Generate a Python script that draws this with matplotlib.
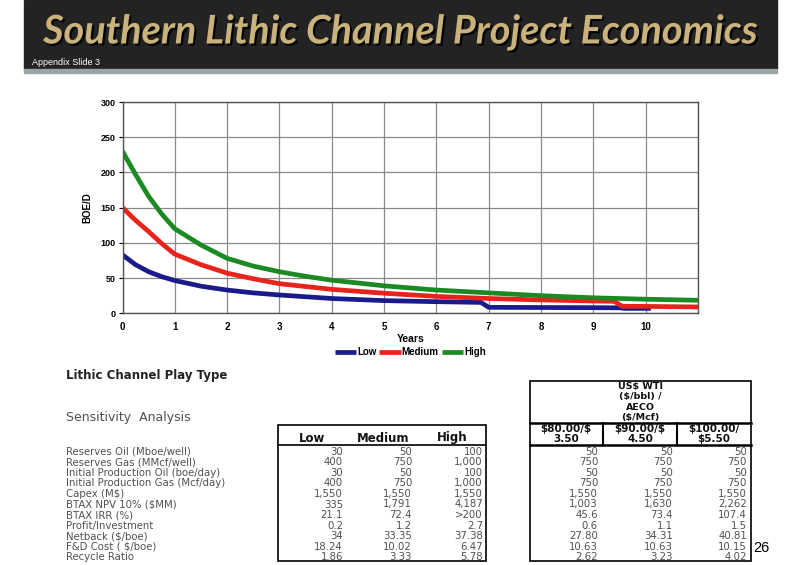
import matplotlib.pyplot as plt
import matplotlib.patheffects as pe
from matplotlib.patches import Rectangle

plt.rcParams['font.family'] = ['Liberation Sans', 'DejaVu Sans']
plt.rcParams['text.parse_math'] = False

# production profiles (BOE/D vs years)
years_low = [0, 0.25, 0.5, 0.75, 1, 1.5, 2, 2.5, 3, 4, 5, 6, 6.85, 7.0, 8, 9, 9.5, 9.6, 10.1]
boe_low = [83, 69, 59, 52, 46.5, 38.5, 33, 29, 26, 21, 18, 16.5, 15.5, 8.5, 8.2, 8, 7.8, 7, 7]
years_med = [0, 0.25, 0.5, 0.75, 1, 1.5, 2, 2.5, 3, 4, 5, 6, 7, 8, 9, 9.4, 9.55, 10, 11]
boe_med = [150, 132, 116, 99, 84, 69, 57, 49, 42, 34, 28.5, 24, 21, 19, 17.5, 17, 10, 9.8, 9]
years_high = [0, 0.25, 0.5, 0.75, 1, 1.5, 2, 2.5, 3, 3.5, 4, 5, 6, 7, 8, 9, 10, 11]
boe_high = [230, 197, 166, 141, 120, 97, 78, 67, 59, 52.5, 47, 39, 33, 29, 25, 22, 20, 18.5]

# sensitivity table
row_labels = ["Reserves Oil (Mboe/well)", "Reserves Gas (MMcf/well)",
              "Initial Production Oil (boe/day)", "Initial Production Gas (Mcf/day)",
              "Capex (M$)", "BTAX NPV 10% ($MM)", "BTAX IRR (%)", "Profit/Investment",
              "Netback ($/boe)", "F&D Cost ( $/boe)", "Recycle Ratio"]
case_names = ["Low", "Medium", "High"]
low_vals = ["30", "400", "30", "400", "1,550", "335", "21.1", "0.2", "34", "18.24", "1.86"]
med_vals = ["50", "750", "50", "750", "1,550", "1,791", "72.4", "1.2", "33.35", "10.02", "3.33"]
high_vals = ["100", "1,000", "100", "1,000", "1,550", "4,187", ">200", "2.7", "37.38", "6.47", "5.78"]

price_title = ["US$ WTI", "($/bbl) /", "AECO", "($/Mcf)"]
price_cases = ["$80.00/$\n3.50", "$90.00/$\n4.50", "$100.00/\n$5.50"]
p80_vals = ["50", "750", "50", "750", "1,550", "1,003", "45.6", "0.6", "27.80", "10.63", "2.62"]
p90_vals = ["50", "750", "50", "750", "1,550", "1,630", "73.4", "1.1", "34.31", "10.63", "3.23"]
p100_vals = ["50", "750", "50", "750", "1,550", "2,262", "107.4", "1.5", "40.81", "10.15", "4.02"]

fig = plt.figure(figsize=(8, 5.65), dpi=100)
fig.patch.set_facecolor('white')

# page overlay in pixel coordinates
bg = fig.add_axes([0, 0, 1, 1], zorder=0)
bg.set_xlim(0, 800)
bg.set_ylim(565, 0)
bg.axis('off')

# header band
bg.add_patch(Rectangle((24, 0), 753, 69, color='#232323'))
bg.add_patch(Rectangle((24, 69), 753, 4, color='#9aa3a6'))
bg.text(401, 32, "Southern Lithic Channel Project Economics", family='Lato',
        fontsize=28.5, fontweight='bold', style='italic', color='#c9b27c',
        ha='center', va='center',
        path_effects=[pe.withSimplePatchShadow(offset=(1.5, -1.5), shadow_rgbFace='black', alpha=0.9)])
bg.text(32, 67, "Appendix Slide 3", fontsize=6.5, color='white', ha='left', va='bottom')

# chart
ax = fig.add_axes([122.5 / 800, 1 - 313.3 / 565, (698 - 122.5) / 800, (313.3 - 102) / 565], zorder=2)
ax.plot(years_low, boe_low, color='#1a1a8a', lw=3.4, label='Low', solid_capstyle='butt')
ax.plot(years_med, boe_med, color='#e8231c', lw=3.4, label='Medium', solid_capstyle='butt')
ax.plot(years_high, boe_high, color='#1b8a22', lw=3.4, label='High', solid_capstyle='butt')
ax.set_xlim(0, 11)
ax.set_ylim(0, 300)
ax.set_xticks(range(0, 12))
ax.set_xticklabels([str(i) for i in range(0, 11)] + [""])
ax.set_yticks(range(0, 301, 50))
ax.grid(True, color='#8a8a8a', lw=0.9)
ax.set_axisbelow(True)
for s in ax.spines.values():
    s.set_color('#555555')
    s.set_linewidth(1)
ax.tick_params(axis='y', length=3, width=0.8, labelsize=6.5, pad=2)
ax.tick_params(axis='x', length=0, labelsize=7, pad=6)
for lab in ax.get_xticklabels() + ax.get_yticklabels():
    lab.set_fontweight('bold')
ax.set_xlabel("Years", fontsize=7.5, fontweight='bold', labelpad=2)
ax.set_ylabel("BOE/D", fontsize=7, fontweight='bold', labelpad=6)
ax.legend(loc='center', bbox_to_anchor=(0.5, -0.183), ncol=3, frameon=False,
          handlelength=2.2, handletextpad=0.1, columnspacing=0.3,
          prop={'weight': 'bold', 'size': 7})

# left table
wide = 'DejaVu Sans'
txt = '#505050'
body = 7.3
bg.text(66, 376, "Lithic Channel Play Type", family=wide, fontsize=8.5, fontweight='bold',
        color='#222222', va='center')
bg.text(66, 418, "Sensitivity  Analysis", family=wide, fontsize=9, color=txt, va='center')
bg.add_patch(Rectangle((278, 424.5), 208, 136.5, fill=False, ec='black', lw=1.2))
bg.plot([278, 486], [445, 445], color='black', lw=1.2)
for name, cx in zip(case_names, [312, 383, 452]):
    bg.text(cx, 438, name, family=wide, fontsize=8.5, fontweight='bold', color='#111111',
            ha='center', va='center')

row_y0 = 451.7
row_dy = 10.56
for i, lab in enumerate(row_labels):
    y = row_y0 + i * row_dy
    bg.text(66, y, lab, family=wide, fontsize=body, color=txt, va='center')
    for vals, rx in zip([low_vals, med_vals, high_vals], [343, 412, 483]):
        bg.text(rx, y, vals[i], family=wide, fontsize=body, color=txt, ha='right', va='center')

# right table
bg.add_patch(Rectangle((529.5, 381), 221, 180, fill=False, ec='black', lw=1.2))
for k, line in enumerate(price_title):
    bg.text(640, 386 + k * 10.6, line, family=wide, fontsize=6.8, fontweight='bold',
            color='#111111', ha='center', va='center')
bg.plot([529.5, 750.5], [423.3, 423.3], color='black', lw=1.8)
bg.plot([529.5, 750.5], [445, 445], color='black', lw=1.8)
for xv in [603.3, 676.7]:
    bg.plot([xv, xv], [423.3, 445], color='black', lw=1.5)
for name, cx in zip(price_cases, [566, 640, 714]):
    bg.text(cx, 434, name, family=wide, fontsize=7.5, fontweight='bold', color='#111111',
            ha='center', va='center', linespacing=1.0)
for i in range(len(row_labels)):
    y = row_y0 + i * row_dy
    for vals, rx in zip([p80_vals, p90_vals, p100_vals], [598, 673, 747]):
        bg.text(rx, y, vals[i], family=wide, fontsize=body, color=txt, ha='right', va='center')

bg.text(753, 548, "26", fontsize=10.5, color='black', ha='left', va='center')

fig.savefig("out.png", dpi=100)
